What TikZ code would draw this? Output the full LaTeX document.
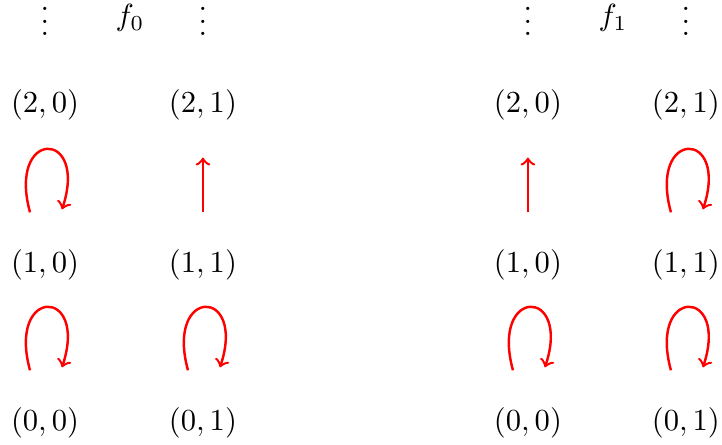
\documentclass[tikz,border=0pt]{standalone}
\usepackage{amsmath}
\newcommand{\vdotsup}{\vbox{\baselineskip4pt\lineskiplimit0pt\hbox{.}\hbox{.}\hbox{.}}}
\begin{document}
\begin{tikzpicture}[>=to,scale=1.0]
    \useasboundingbox (0,0) rectangle (8.3,5.115);
    \tikzset{arr/.style={->,red,thick},
      vdot/.style={text height=9pt,text depth=0pt}}
    % left: f_0
    \node (lab0) at (1.494,4.908) {$f_0$};
    \node[vdot] (ld0) at (0.517,4.866) {$\vdotsup$};
    \node[vdot] (ld1) at (2.333,4.866) {$\vdotsup$};
    \node (l20) at (0.517,3.908) {$(2,0)$};
    \node (l21) at (2.333,3.908) {$(2,1)$};
    \node (l10) at (0.517,2.069) {$(1,0)$};
    \node (l11) at (2.333,2.069) {$(1,1)$};
    \node (l00) at (0.517,0.253) {$(0,0)$};
    \node (l01) at (2.333,0.253) {$(0,1)$};
    % right: f_1
    \node (lab1) at (7.046,4.908) {$f_1$};
    \node[vdot] (rd0) at (6.069,4.866) {$\vdotsup$};
    \node[vdot] (rd1) at (7.885,4.866) {$\vdotsup$};
    \node (r20) at (6.069,3.908) {$(2,0)$};
    \node (r21) at (7.885,3.908) {$(2,1)$};
    \node (r10) at (6.069,2.069) {$(1,0)$};
    \node (r11) at (7.885,2.069) {$(1,1)$};
    \node (r00) at (6.069,0.253) {$(0,0)$};
    \node (r01) at (7.885,0.253) {$(0,1)$};
    \draw[arr,shorten <=3.05mm,shorten >=3.05mm] (l11) -- (l21);
    \draw[arr,shorten <=3.05mm,shorten >=3.05mm] (r10) -- (r20);
    \foreach \n in {l10,l00,l01,r11,r00,r01}
      \draw[arr] ([xshift=-1.72mm,yshift=3.05mm]\n.north)
        .. controls +(-0.265,0.964) and +(0.307,0.93) .. ([xshift=1.96mm,yshift=3.39mm]\n.north);
  \end{tikzpicture}
\end{document}
